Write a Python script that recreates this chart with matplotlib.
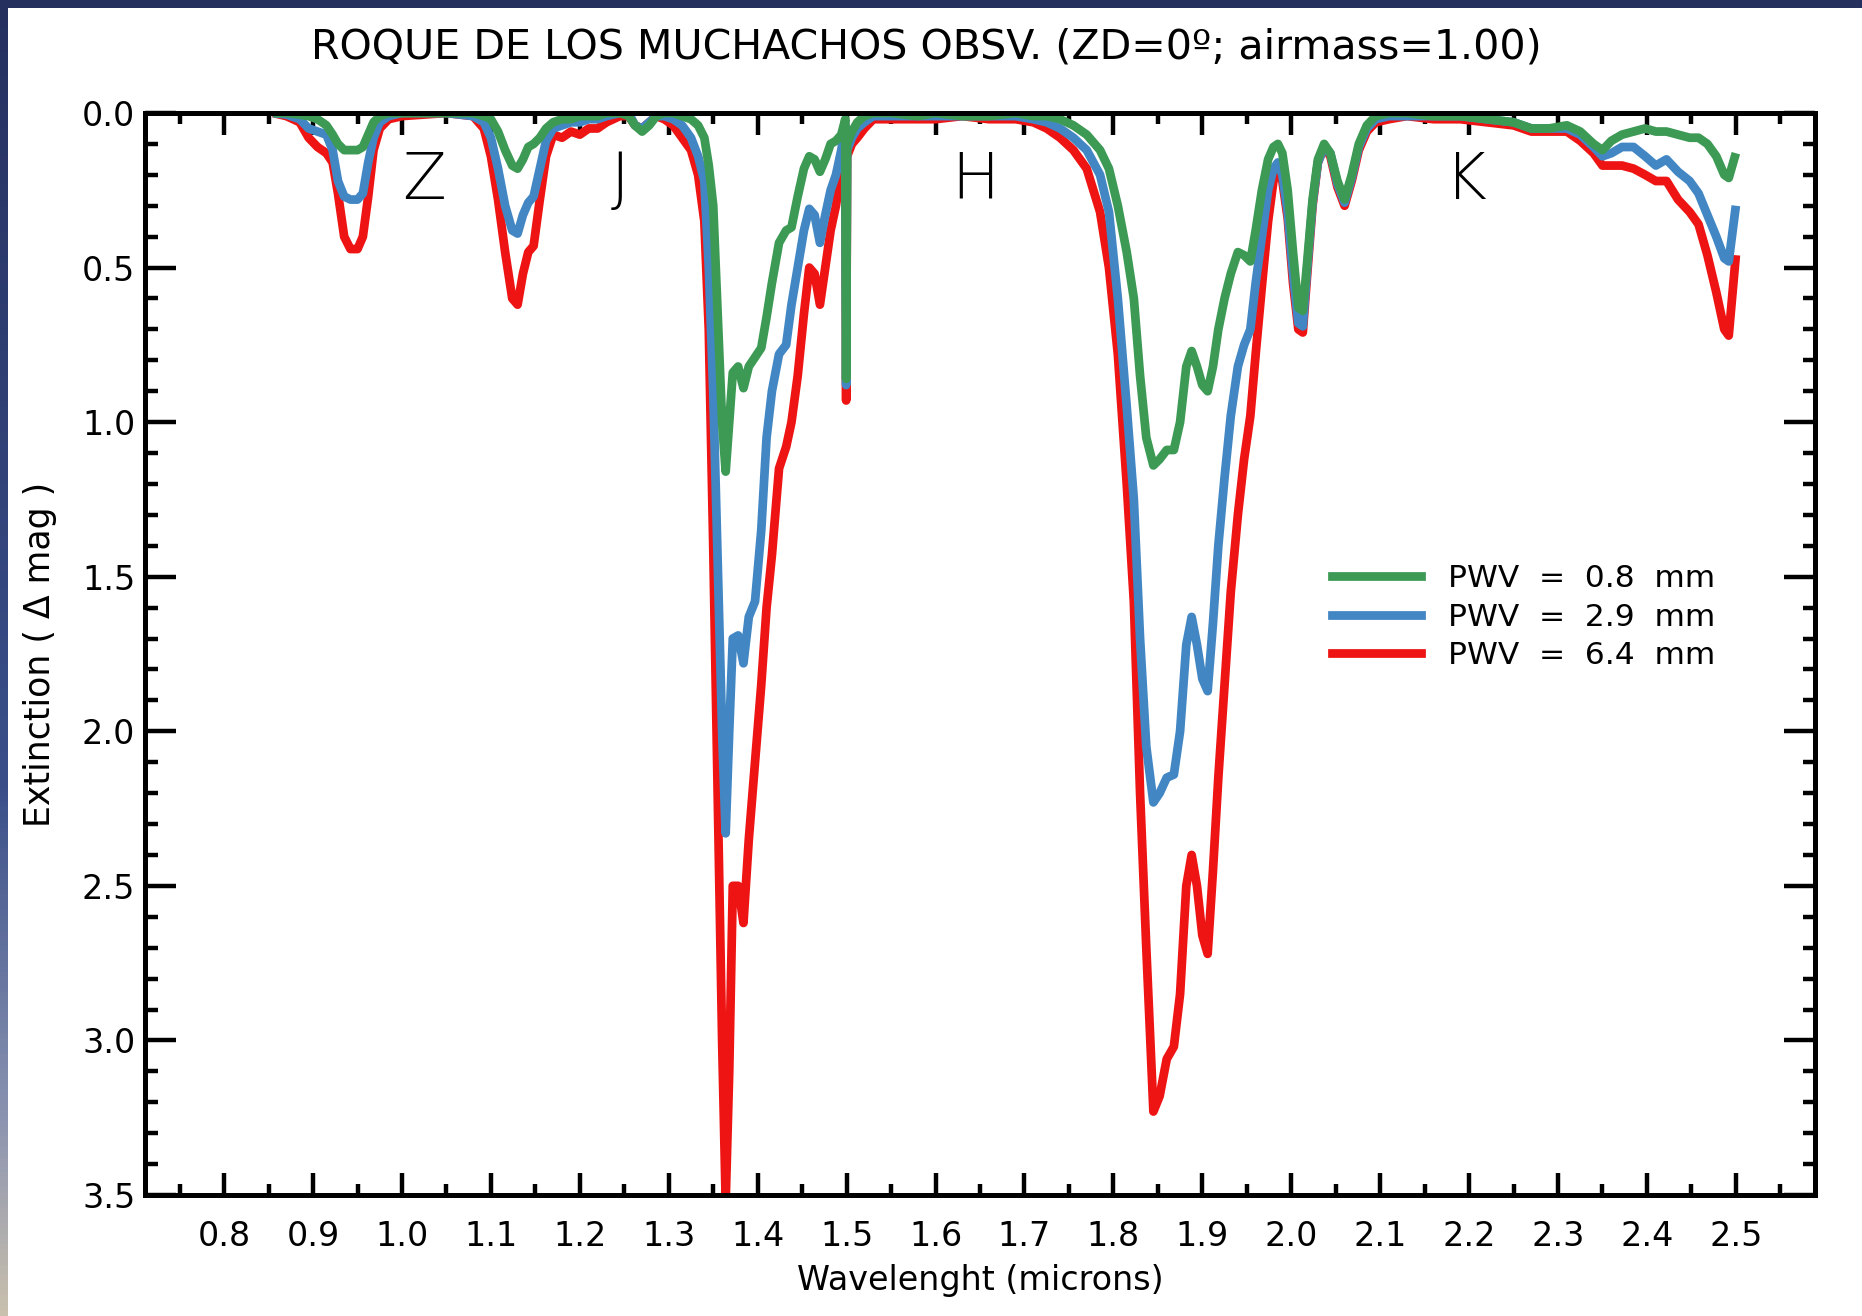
import numpy as np
import matplotlib
matplotlib.use("Agg")
import matplotlib.pyplot as plt
from matplotlib.ticker import MultipleLocator, FormatStrFormatter
from matplotlib.lines import Line2D
from matplotlib.colors import LinearSegmentedColormap

# ---------------- data ----------------
wavelength = [
    0.855, 0.870, 0.885, 0.895, 0.905, 0.915, 0.922, 0.928, 0.935, 0.942,
    0.950, 0.956, 0.962, 0.968, 0.975, 0.985, 1.000, 1.050, 1.080, 1.092,
    1.100, 1.108, 1.116, 1.124, 1.130, 1.136, 1.142, 1.148, 1.155, 1.162,
    1.170, 1.180, 1.190, 1.200, 1.210, 1.220, 1.230, 1.245, 1.255, 1.262,
    1.270, 1.278, 1.286, 1.295, 1.305, 1.315, 1.325, 1.333, 1.340, 1.345,
    1.350, 1.355, 1.360, 1.364, 1.368, 1.372, 1.378, 1.384, 1.390, 1.397,
    1.404, 1.410, 1.416, 1.424, 1.432, 1.438, 1.445, 1.452, 1.458, 1.464,
    1.470, 1.476, 1.482, 1.488, 1.494, 1.4985, 1.4995, 1.5005, 1.506, 1.512,
    1.520, 1.530, 1.550, 1.580, 1.600, 1.630, 1.660, 1.690, 1.710, 1.725,
    1.740, 1.755, 1.770, 1.785, 1.795, 1.805, 1.815, 1.823, 1.830, 1.837,
    1.845, 1.852, 1.860, 1.868, 1.875, 1.882, 1.888, 1.894, 1.900, 1.906,
    1.912, 1.918, 1.925, 1.932, 1.940, 1.947, 1.954, 1.960, 1.967, 1.974,
    1.980, 1.985, 1.990, 1.996, 2.002, 2.008, 2.013, 2.018, 2.024, 2.030,
    2.037, 2.044, 2.052, 2.060, 2.068, 2.076, 2.085, 2.095, 2.110, 2.130,
    2.160, 2.190, 2.220, 2.250, 2.270, 2.290, 2.310, 2.325, 2.340, 2.350,
    2.360, 2.372, 2.385, 2.398, 2.410, 2.422, 2.435, 2.448, 2.458, 2.468,
    2.478, 2.487, 2.492, 2.500,
]

pwv_08 = [
    0.00, 0.00, 0.005, 0.01, 0.02, 0.04, 0.07, 0.10, 0.12, 0.12,
    0.12, 0.11, 0.07, 0.03, 0.01, 0.00, 0.00, 0.00, 0.00, 0.01,
    0.02, 0.06, 0.12, 0.17, 0.18, 0.15, 0.11, 0.10, 0.08, 0.05,
    0.03, 0.02, 0.02, 0.01, 0.01, 0.01, 0.00, 0.00, 0.01, 0.04,
    0.06, 0.04, 0.01, 0.00, 0.00, 0.01, 0.02, 0.04, 0.08, 0.17,
    0.30, 0.65, 1.00, 1.16, 1.00, 0.84, 0.82, 0.89, 0.82, 0.79,
    0.76, 0.66, 0.55, 0.42, 0.38, 0.37, 0.27, 0.18, 0.14, 0.15,
    0.19, 0.15, 0.10, 0.09, 0.07, 0.02, 0.86, 0.10, 0.06, 0.03,
    0.01, 0.00, 0.00, 0.01, 0.00, 0.01, 0.01, 0.00, 0.01, 0.01,
    0.02, 0.04, 0.07, 0.12, 0.18, 0.30, 0.45, 0.60, 0.85, 1.05,
    1.14, 1.12, 1.09, 1.09, 1.00, 0.82, 0.77, 0.82, 0.88, 0.90,
    0.82, 0.70, 0.60, 0.52, 0.45, 0.46, 0.48, 0.38, 0.25, 0.15,
    0.11, 0.10, 0.13, 0.25, 0.45, 0.63, 0.64, 0.48, 0.28, 0.15,
    0.10, 0.13, 0.22, 0.28, 0.20, 0.10, 0.04, 0.01, 0.00, 0.00,
    0.01, 0.01, 0.02, 0.03, 0.05, 0.05, 0.04, 0.06, 0.10, 0.12,
    0.09, 0.07, 0.06, 0.05, 0.06, 0.06, 0.07, 0.08, 0.08, 0.10,
    0.14, 0.20, 0.21, 0.13,
]

pwv_29 = [
    0.00, 0.005, 0.02, 0.05, 0.06, 0.07, 0.12, 0.22, 0.27, 0.28,
    0.28, 0.26, 0.16, 0.08, 0.03, 0.01, 0.00, 0.00, 0.01, 0.03,
    0.08, 0.18, 0.30, 0.38, 0.39, 0.33, 0.29, 0.27, 0.18, 0.09,
    0.05, 0.04, 0.03, 0.03, 0.02, 0.02, 0.01, 0.00, 0.00, 0.04,
    0.05, 0.03, 0.01, 0.01, 0.02, 0.04, 0.08, 0.14, 0.22, 0.50,
    0.90, 1.45, 2.00, 2.33, 2.00, 1.70, 1.69, 1.78, 1.63, 1.58,
    1.35, 1.05, 0.90, 0.78, 0.75, 0.62, 0.50, 0.38, 0.31, 0.33,
    0.42, 0.33, 0.25, 0.20, 0.12, 0.04, 0.88, 0.12, 0.08, 0.05,
    0.03, 0.01, 0.01, 0.01, 0.01, 0.01, 0.01, 0.01, 0.02, 0.03,
    0.05, 0.08, 0.12, 0.20, 0.32, 0.60, 0.95, 1.25, 1.70, 2.05,
    2.23, 2.20, 2.15, 2.14, 2.00, 1.72, 1.63, 1.72, 1.83, 1.87,
    1.65, 1.40, 1.18, 0.98, 0.82, 0.75, 0.70, 0.55, 0.40, 0.25,
    0.18, 0.16, 0.20, 0.32, 0.52, 0.68, 0.69, 0.50, 0.29, 0.16,
    0.11, 0.13, 0.23, 0.29, 0.21, 0.11, 0.05, 0.02, 0.01, 0.01,
    0.01, 0.01, 0.02, 0.03, 0.05, 0.05, 0.05, 0.07, 0.11, 0.14,
    0.13, 0.11, 0.11, 0.14, 0.17, 0.15, 0.19, 0.22, 0.26, 0.33,
    0.40, 0.47, 0.48, 0.30,
]

pwv_64 = [
    0.00, 0.01, 0.03, 0.08, 0.11, 0.13, 0.16, 0.26, 0.40, 0.44,
    0.44, 0.40, 0.27, 0.12, 0.05, 0.02, 0.01, 0.00, 0.01, 0.05,
    0.14, 0.28, 0.45, 0.60, 0.62, 0.52, 0.45, 0.43, 0.28, 0.14,
    0.07, 0.08, 0.06, 0.07, 0.05, 0.05, 0.03, 0.01, 0.01, 0.04,
    0.05, 0.03, 0.01, 0.02, 0.04, 0.08, 0.12, 0.20, 0.35, 0.70,
    1.40, 2.20, 3.00, 3.52, 3.10, 2.50, 2.50, 2.62, 2.35, 2.10,
    1.85, 1.60, 1.43, 1.15, 1.08, 1.00, 0.85, 0.65, 0.50, 0.52,
    0.62, 0.50, 0.38, 0.30, 0.18, 0.06, 0.93, 0.14, 0.10, 0.08,
    0.05, 0.02, 0.02, 0.02, 0.02, 0.01, 0.02, 0.02, 0.03, 0.05,
    0.08, 0.12, 0.18, 0.32, 0.50, 0.78, 1.20, 1.58, 2.20, 2.70,
    3.23, 3.18, 3.06, 3.02, 2.85, 2.50, 2.40, 2.50, 2.66, 2.72,
    2.45, 2.15, 1.85, 1.55, 1.30, 1.12, 0.98, 0.78, 0.56, 0.35,
    0.22, 0.18, 0.22, 0.34, 0.55, 0.70, 0.71, 0.52, 0.30, 0.16,
    0.11, 0.14, 0.24, 0.30, 0.22, 0.12, 0.06, 0.03, 0.02, 0.01,
    0.02, 0.02, 0.03, 0.04, 0.06, 0.06, 0.06, 0.09, 0.13, 0.17,
    0.17, 0.17, 0.18, 0.20, 0.22, 0.22, 0.28, 0.32, 0.36, 0.46,
    0.58, 0.70, 0.72, 0.46,
]

series_labels = ["PWV  =  0.8  mm", "PWV  =  2.9  mm", "PWV  =  6.4  mm"]
series_colors = ["#3d9a55", "#4287c4", "#ee1414"]

band_names = ["Z", "J", "H", "K"]
band_x = [1.025, 1.245, 1.645, 2.197]
band_y = [0.22, 0.22, 0.22, 0.22]

title_text = "ROQUE DE LOS MUCHACHOS OBSV. (ZD=0\u00ba; airmass=1.00)"
xlabel_text = "Wavelenght (microns)"
ylabel_text = "Extinction ( \u0394 mag )"

# ---------------- figure ----------------
W, H = 1862, 1316
fig = plt.figure(figsize=(W / 100, H / 100), dpi=100)
fig.patch.set_facecolor("white")

# decorative dark frame (top band and left gradient band)
top_ax = fig.add_axes([0, 1 - 8 / H, 1, 8 / H])
top_ax.set_axis_off()
top_ax.add_patch(plt.Rectangle((0, 0), 1, 1, color="#25305f", transform=top_ax.transAxes))
left_ax = fig.add_axes([0, 0, 8 / W, 1])
left_ax.set_axis_off()
grad = np.linspace(0, 1, 256)[:, None]
cmap_frame = LinearSegmentedColormap.from_list(
    "frame", [(0.0, "#25305f"), (0.6, "#3a4f8a"), (0.85, "#8a93b0"), (1.0, "#c9c0ad")])
left_ax.imshow(grad, aspect="auto", cmap=cmap_frame, extent=[0, 1, 0, 1], origin="upper")

ax = fig.add_axes([145 / W, 1 - 1195 / H, (1815 - 145) / W, (1195 - 113) / H])

xs = np.array(wavelength)
order = [(pwv_64, series_colors[2]), (pwv_29, series_colors[1]), (pwv_08, series_colors[0])]
for vals, col in order:
    ax.plot(xs, vals, color=col, lw=6.3, solid_joinstyle="round", solid_capstyle="butt")

ax.set_xlim(0.711, 2.589)
ax.set_ylim(3.5, 0.0)

for s in ax.spines.values():
    s.set_linewidth(3.6)
ax.xaxis.set_major_locator(MultipleLocator(0.1))
ax.xaxis.set_minor_locator(MultipleLocator(0.05))
ax.yaxis.set_major_locator(MultipleLocator(0.5))
ax.yaxis.set_minor_locator(MultipleLocator(0.1))
ax.xaxis.set_major_formatter(FormatStrFormatter("%.1f"))
ax.yaxis.set_major_formatter(FormatStrFormatter("%.1f"))
ax.tick_params(axis="x", which="major", direction="in", length=16, width=3.2,
               top=True, bottom=True, labelsize=24, pad=18)
ax.tick_params(axis="x", which="minor", direction="in", length=8, width=3.2, top=True, bottom=True)
ax.tick_params(axis="y", which="major", direction="in", length=22, width=3.2,
               left=True, right=True, labelsize=24, pad=7)
ax.tick_params(axis="y", which="minor", direction="in", length=9, width=3.2, left=True, right=True)

for name, bx, by in zip(band_names, band_x, band_y):
    ax.text(bx, by, name, fontsize=46, ha="center", va="center", color="black",
            fontweight="light")

fig.text(926 / W, 1 - 47 / H, title_text, fontsize=29.6, ha="center", va="center")
ax.set_xlabel(xlabel_text, fontsize=24, labelpad=8)
ax.set_ylabel(ylabel_text, fontsize=25, labelpad=18)

handles = [Line2D([], [], color=c, lw=6.3) for c in series_colors]
leg = ax.legend(handles, series_labels, loc="upper left", bbox_to_anchor=(0.711, 0.583),
                frameon=False, fontsize=22.5, handlelength=2.85, handletextpad=0.84,
                labelspacing=0.3, borderaxespad=0, borderpad=0)

fig.savefig("out.png", dpi=100)
